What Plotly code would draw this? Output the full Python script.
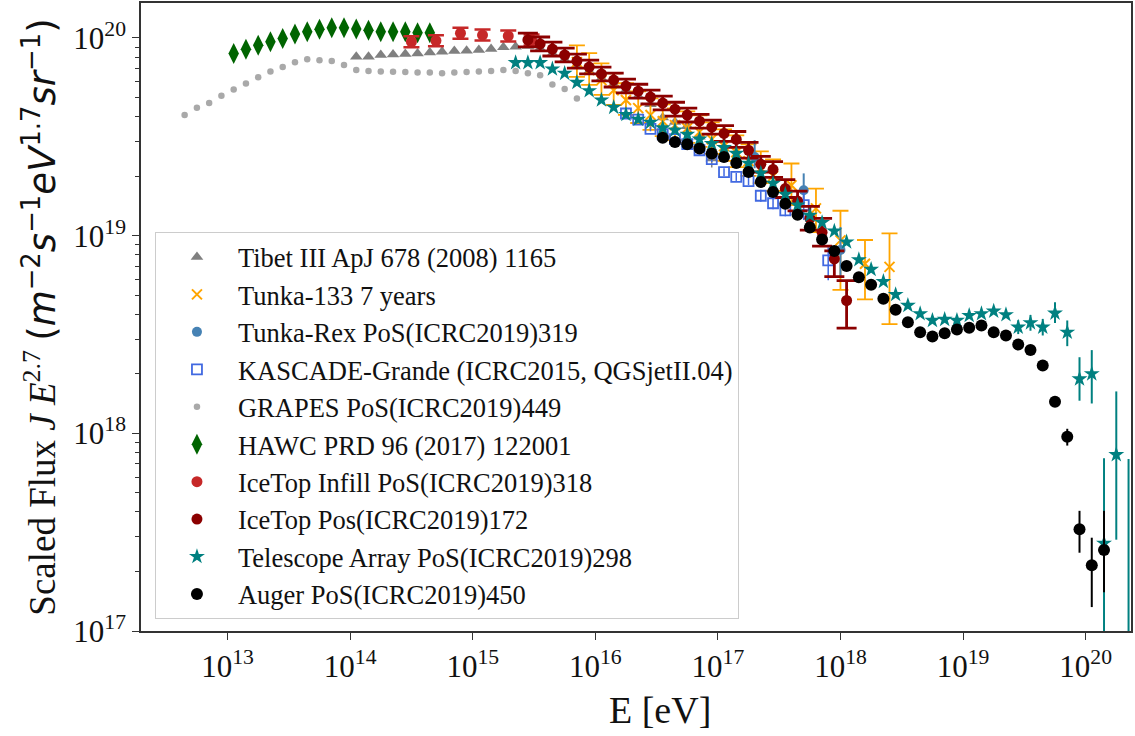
import numpy as np
import plotly.graph_objects as go

# ---------------- data (log10 E [eV], log10 of E^2.7 J) ----------------
tibet_logE = [14.05, 14.15, 14.25, 14.35, 14.45, 14.55, 14.65, 14.75, 14.85, 14.95,
              15.05, 15.15, 15.25, 15.35, 15.45, 15.55, 15.65, 15.75, 15.85, 15.95,
              16.05, 16.15, 16.25, 16.35, 16.45, 16.55, 16.65, 16.75, 16.85, 16.95]
tibet_logJ = [19.905, 19.905, 19.914, 19.917, 19.919, 19.922, 19.926, 19.931, 19.934, 19.936,
              19.939, 19.944, 19.953, 19.956, 19.959, 19.945, 19.920, 19.890, 19.860, 19.830,
              19.795, 19.765, 19.735, 19.705, 19.665, 19.598, 19.575, 19.554, 19.500, 19.390]
tibet_errU = [0.005] * 29 + [0.045]
tibet_errD = [0.005] * 29 + [0.045]

tunka133_logE = [15.85, 15.95, 16.05, 16.15, 16.25, 16.35, 16.45, 16.55, 16.65, 16.75, 16.85,
                 16.95, 17.05, 17.15, 17.25, 17.35, 17.45, 17.6, 17.8, 18.0, 18.2, 18.4]
tunka133_logJ = [19.878, 19.838, 19.787, 19.736, 19.686, 19.645, 19.610, 19.579, 19.559, 19.544,
                 19.524, 19.488, 19.453, 19.422, 19.377, 19.341, 19.301, 19.255, 19.138, 18.976,
                 18.858, 18.842]
tunka133_errU = [0.085] * 17 + [0.11, 0.10, 0.15, 0.12, 0.17]
tunka133_errD = [0.075] * 17 + [0.10, 0.12, 0.25, 0.18, 0.29]

tunkarex_logE = [17.3, 17.7, 18.0]
tunkarex_logJ = [19.398, 19.230, 18.928]
tunkarex_errU = [0.085, 0.085, 0.116]
tunkarex_errD = [0.057, 0.085, 0.138]

kascade_logE = [16.25, 16.35, 16.45, 16.55, 16.65, 16.75, 16.85, 16.95, 17.05, 17.15, 17.25,
                17.35, 17.45, 17.55, 17.7, 17.9]
kascade_logJ = [19.618, 19.587, 19.540, 19.513, 19.488, 19.463, 19.432, 19.387, 19.321, 19.297,
                19.276, 19.202, 19.164, 19.128, 19.154, 18.875]
kascade_errU = [0.012] * 7 + [0.015, 0.02, 0.02, 0.02, 0.03, 0.03, 0.03, 0.075, 0.066]
kascade_errD = [0.012] * 7 + [0.015, 0.02, 0.02, 0.02, 0.03, 0.03, 0.03, 0.075, 0.100]

grapes_logE = [12.65, 12.75, 12.85, 12.95, 13.05, 13.15, 13.25, 13.35, 13.45, 13.55, 13.65,
               13.75, 13.85, 13.95, 14.05, 14.15, 14.25, 14.35, 14.45, 14.55, 14.65, 14.75,
               14.85, 14.95, 15.05, 15.15, 15.25, 15.35, 15.45, 15.55, 15.65, 15.75, 15.85]
grapes_logJ = [19.610, 19.647, 19.671, 19.708, 19.739, 19.770, 19.801, 19.830, 19.853, 19.877,
               19.892, 19.888, 19.883, 19.863, 19.838, 19.833, 19.831, 19.829, 19.828, 19.826,
               19.826, 19.821, 19.826, 19.828, 19.831, 19.833, 19.838, 19.833, 19.821, 19.811,
               19.765, 19.742, 19.694]

hawc_logE = [13.05, 13.15, 13.25, 13.35, 13.45, 13.55, 13.65, 13.75, 13.85, 13.95, 14.05,
             14.15, 14.25, 14.35, 14.45, 14.55, 14.65]
hawc_logJ = [19.922, 19.943, 19.963, 19.981, 19.998, 20.020, 20.032, 20.044, 20.052, 20.052,
             20.046, 20.039, 20.032, 20.032, 20.032, 20.027, 20.027]

infill_logE = [14.5, 14.7, 14.9, 15.08, 15.29, 15.48]
infill_logJ = [19.981, 19.986, 20.024, 20.015, 20.010, 19.990]
infill_err = [0.028] * 6

icetop_logE = [15.45, 15.55, 15.65, 15.75, 15.85, 15.95, 16.05, 16.15, 16.25, 16.35, 16.45,
               16.55, 16.65, 16.75, 16.85, 16.95, 17.05, 17.15, 17.25, 17.35, 17.45, 17.55,
               17.65, 17.75, 17.85, 17.95, 18.05]
icetop_logJ = [19.990, 19.970, 19.944, 19.914, 19.883, 19.853, 19.818, 19.787, 19.757, 19.731,
               19.701, 19.671, 19.640, 19.610, 19.579, 19.549, 19.517, 19.487, 19.432, 19.361,
               19.335, 19.238, 19.175, 19.088, 19.017, 18.883, 18.672]
icetop_errU = [0.035] * 16 + [0.04, 0.04, 0.04, 0.04, 0.04, 0.045, 0.05, 0.06, 0.07, 0.04, 0.101]
icetop_errD = [0.035] * 16 + [0.04, 0.04, 0.04, 0.04, 0.04, 0.045, 0.05, 0.06, 0.07, 0.09, 0.140]

ta_logE = [15.35, 15.45, 15.55, 15.65, 15.75, 15.85, 15.95, 16.05, 16.15, 16.25, 16.35, 16.45,
           16.55, 16.65, 16.75, 16.85, 16.95, 17.05, 17.15, 17.25, 17.35, 17.45, 17.55, 17.65,
           17.75, 17.85, 17.95, 18.05, 18.15, 18.25, 18.35, 18.45, 18.55, 18.65, 18.75, 18.85,
           18.95, 19.05, 19.15, 19.25, 19.35, 19.45, 19.55, 19.65, 19.75, 19.85, 19.95, 20.05,
           20.15, 20.25, 20.35]
ta_logJ = [19.875, 19.875, 19.875, 19.843, 19.821, 19.775, 19.733, 19.686, 19.649, 19.613,
           19.589, 19.573, 19.545, 19.534, 19.512, 19.488, 19.466, 19.446, 19.416, 19.366,
           19.316, 19.264, 19.209, 19.154, 19.103, 19.066, 19.023, 18.968, 18.878, 18.829,
           18.768, 18.702, 18.647, 18.605, 18.571, 18.576, 18.571, 18.596, 18.605, 18.618,
           18.600, 18.537, 18.559, 18.537, 18.608, 18.511, 18.275, 18.301, 17.444, 17.892,
           16.950]
ta_errU = [0.012] * 41 + [0.035, 0.04, 0.042, 0.055, 0.06, 0.11, 0.12, 0.43, 0.32, 0.92]
ta_errD = [0.012] * 41 + [0.035, 0.04, 0.042, 0.050, 0.07, 0.11, 0.15, 0.45, 0.43, 0.10]

auger_logE = [16.55, 16.65, 16.75, 16.85, 16.95, 17.05, 17.15, 17.25, 17.35, 17.45, 17.55,
              17.65, 17.75, 17.85, 17.95, 18.05, 18.15, 18.25, 18.35, 18.45, 18.55, 18.65,
              18.75, 18.85, 18.95, 19.05, 19.15, 19.25, 19.35, 19.45, 19.55, 19.65, 19.75,
              19.85, 19.95, 20.05, 20.15]
auger_logJ = [19.495, 19.474, 19.463, 19.441, 19.416, 19.398, 19.368, 19.322, 19.272, 19.221,
              19.162, 19.106, 19.041, 18.980, 18.922, 18.846, 18.790, 18.752, 18.681, 18.625,
              18.562, 18.511, 18.490, 18.506, 18.525, 18.534, 18.545, 18.511, 18.495, 18.449,
              18.422, 18.343, 18.160, 17.983, 17.515, 17.333, 17.410]
auger_errU = [0.005] * 32 + [0.012, 0.040, 0.093, 0.139, 0.198]
auger_errD = [0.005] * 32 + [0.012, 0.045, 0.119, 0.212, 0.214]

x_tick_exps = [13, 14, 15, 16, 17, 18, 19, 20]
y_tick_exps = [17, 18, 19, 20]

SERIF = "Liberation Serif, Times New Roman, serif"

fig = go.Figure()


def add_series(name, logE, logJ, color, symbol, size, errU=None, errD=None,
               cap=0, thick=1.5, line_w=0, line_col=None, err_color=None):
    x = np.power(10.0, np.array(logE))
    y = np.power(10.0, np.array(logJ))
    kw = {}
    if errU is not None:
        eu = np.power(10.0, np.array(logJ) + np.array(errU)) - y
        ed = y - np.power(10.0, np.array(logJ) - np.array(errD))
        kw["error_y"] = dict(type="data", symmetric=False, array=eu, arrayminus=ed,
                             color=err_color or color, thickness=thick, width=cap)
    fig.add_trace(go.Scatter(
        x=x, y=y, mode="markers", name=name, legendgroup=name,
        marker=dict(color=color, symbol=symbol, size=size,
                    line=dict(width=line_w, color=line_col or color)),
        **kw))


add_series("Tibet III ApJ 678 (2008) 1165", tibet_logE, tibet_logJ, "#808080",
           "triangle-up", 11, tibet_errU, tibet_errD)
add_series("Tunka-133 7 years", tunka133_logE, tunka133_logJ, "#FFA500",
           "x-thin-open", 10, tunka133_errU, tunka133_errD, cap=8, thick=1.8, line_w=2)
add_series("Tunka-Rex PoS(ICRC2019)319", tunkarex_logE, tunkarex_logJ, "#4682B4",
           "circle", 10, tunkarex_errU, tunkarex_errD, thick=2)
add_series("KASCADE-Grande (ICRC2015, QGSjetII.04)", kascade_logE, kascade_logJ, "#4169E1",
           "square-open", 10, kascade_errU, kascade_errD, thick=1.5, line_w=1.8)
add_series("GRAPES PoS(ICRC2019)449", grapes_logE, grapes_logJ, "#A9A9A9", "circle", 6.5)
add_series("HAWC PRD 96 (2017) 122001", hawc_logE, hawc_logJ, "#006400", "diamond-tall", 15)
add_series("IceTop Infill PoS(ICRC2019)318", infill_logE, infill_logJ, "#C62828",
           "circle", 11, infill_err, infill_err, cap=8, thick=2.5)
add_series("IceTop Pos(ICRC2019)172", icetop_logE, icetop_logJ, "#8B0000",
           "circle", 11, icetop_errU, icetop_errD, cap=10, thick=2.8)
add_series("Telescope Array PoS(ICRC2019)298", ta_logE, ta_logJ, "#008080",
           "star", 12, ta_errU, ta_errD, thick=2)
add_series("Auger PoS(ICRC2019)450", auger_logE, auger_logJ, "#000000",
           "circle", 12, auger_errU, auger_errD, thick=2)

axis_common = dict(type="log", showgrid=False, zeroline=False, showline=True, mirror=True,
                   linecolor="#333333", linewidth=1.5, ticks="outside", ticklen=7,
                   tickwidth=1.3, tickcolor="#333333",
                   tickfont=dict(family=SERIF, size=31, color="#111111"))

fig.update_layout(
    width=1135, height=736,
    margin=dict(l=141, r=4, t=3, b=105, autoexpand=False),
    paper_bgcolor="white", plot_bgcolor="white",
    xaxis=dict(**axis_common, range=[12.294, 20.37],
               tickvals=[10.0 ** e for e in x_tick_exps],
               ticktext=["10<sup>%d</sup>" % e for e in x_tick_exps]),
    yaxis=dict(**axis_common, range=[17.0, 20.177],
               tickvals=[10.0 ** e for e in y_tick_exps],
               ticktext=["10<sup>%d</sup>" % e for e in y_tick_exps],
               minor=dict(ticks="outside", ticklen=4, tickwidth=1, tickcolor="#333333",
                          dtick="D1", showgrid=False),
               title=dict(text="Scaled Flux <i>J E</i><sup>2.7</sup> "
                               "<span style=\"font-family:DejaVu Sans\">(<i>m</i><sup>−2</sup>"
                               "<i>s</i><sup>−1</sup><i>eV</i><sup>1.7</sup><i>sr</i>"
                               "<sup>−1</sup>)</span>",
                          font=dict(family=SERIF, size=37, color="#111111"),
                          standoff=6)),
    legend=dict(x=0.0141, y=0.635, xanchor="left", yanchor="top",
                bgcolor="rgba(255,255,255,0.85)", bordercolor="#cccccc", borderwidth=1,
                font=dict(family=SERIF, size=26.5, color="#111111"),
                tracegroupgap=0, itemwidth=72),
    annotations=[dict(text="E [eV]", xref="paper", yref="paper", x=0.524, y=-0.126,
                      xanchor="center", yanchor="middle", showarrow=False,
                      font=dict(family=SERIF, size=38, color="#111111"))],
    showlegend=True,
)

fig.write_html("out.html")
